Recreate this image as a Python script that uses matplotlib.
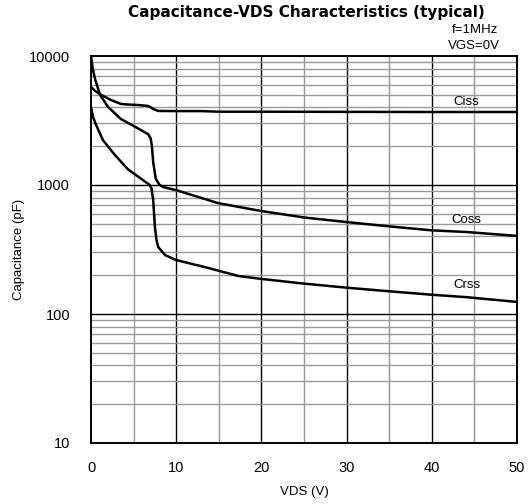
import matplotlib
matplotlib.use("Agg")
import matplotlib.pyplot as plt
import numpy as np
from matplotlib.ticker import FixedLocator, NullFormatter

# Data
ciss_v = [0, 0.5, 1.2, 2.35, 3.5, 4.5, 5.5, 6.7, 7.0, 7.3, 7.9, 10, 13, 15, 20, 30, 40, 50]
ciss_c = [5750, 5350, 4990, 4560, 4250, 4200, 4170, 4100, 4000, 3880, 3750, 3740, 3740, 3700, 3700, 3690, 3680, 3680]

coss_v = [0, 0.2, 0.47, 1.06, 2.0, 3.5, 5.2, 6.7, 7.0, 7.15, 7.3, 7.6, 8.0, 8.45, 10.0, 14.9, 20, 25, 30, 35, 40, 44.1, 50]
coss_c = [10000, 8000, 6640, 4990, 4030, 3250, 2820, 2480, 2300, 2000, 1505, 1120, 1010, 965, 912, 724, 628, 560, 516, 478, 445, 432, 403]

crss_v = [0, 0.25, 0.6, 1.4, 2.8, 4.3, 5.9, 6.9, 7.1, 7.3, 7.5, 7.7, 7.9, 8.7, 10.0, 13.7, 17.3, 20, 25, 30, 35, 40, 44.1, 50]
crss_c = [4030, 3350, 2920, 2230, 1710, 1330, 1115, 1000, 940, 766, 472, 370, 330, 286, 262, 228, 197, 187, 172, 160, 150, 141, 135, 124]

x_ticks = [0, 10, 20, 30, 40, 50]
y_ticks = [10, 100, 1000, 10000]
y_tick_labels = ["10", "100", "1000", "10000"]

labels = ["Ciss", "Coss", "Crss"]
label_x = [44.1, 44.1, 44.1]
label_y = [4400, 540, 168]

fig = plt.figure(figsize=(5.32, 5.04), dpi=100)
ax = fig.add_axes([91/532, 1-443/504, (517-91)/532, (443-56)/504])

ax.set_xlim(0, 50)
ax.set_yscale("log")
ax.set_ylim(10, 10000)

# grid
minor_x = [5, 15, 25, 35, 45]
for xv in minor_x:
    ax.axvline(xv, color="#999999", lw=1.0, zorder=1)
for xv in x_ticks[1:-1]:
    ax.axvline(xv, color="black", lw=1.0, zorder=1)
for dec in [10, 100, 1000]:
    for m in range(2, 10):
        ax.axhline(dec*m, color="#999999", lw=1.0, zorder=1)
for yv in y_ticks[1:-1]:
    ax.axhline(yv, color="black", lw=1.0, zorder=1)

for v, c in [(ciss_v, ciss_c), (coss_v, coss_c), (crss_v, crss_c)]:
    ax.plot(v, c, color="black", lw=1.8, zorder=3, solid_capstyle="round", solid_joinstyle="round")

for t, xx, yy in zip(labels, label_x, label_y):
    ax.text(xx, yy, t, ha="center", va="center", fontsize=9.5,
            family="Liberation Sans", zorder=4)

ax.xaxis.set_major_locator(FixedLocator(x_ticks))
ax.yaxis.set_major_locator(FixedLocator(y_ticks))
ax.yaxis.set_minor_formatter(NullFormatter())
ax.set_yticklabels(y_tick_labels)
ax.tick_params(axis="both", which="both", length=0, labelsize=10.5)
ax.tick_params(axis="x", pad=13)
ax.tick_params(axis="y", pad=15)
for lab in ax.get_xticklabels() + ax.get_yticklabels():
    lab.set_family("Liberation Sans")

for sp in ax.spines.values():
    sp.set_linewidth(1.4)
    sp.set_color("black")

ax.set_xlabel("VDS (V)", fontsize=9.5, family="Liberation Sans", labelpad=8)
ax.yaxis.set_label_coords(-(91-19)/426, 0.5)
ax.set_ylabel("Capacitance (pF)", fontsize=9.5, family="Liberation Sans", va="center")

fig.text(306/532, 1-13/504, "Capacitance-VDS Characteristics (typical)", ha="center", va="center",
         fontsize=11, fontweight="bold", family="DejaVu Sans")
fig.text(498/532, 1-30/504, "f=1MHz", ha="right", va="center", fontsize=9.5, family="Liberation Sans")
fig.text(500/532, 1-46/504, "VGS=0V", ha="right", va="center", fontsize=9.5, family="Liberation Sans")

fig.savefig("out.png", dpi=100)
